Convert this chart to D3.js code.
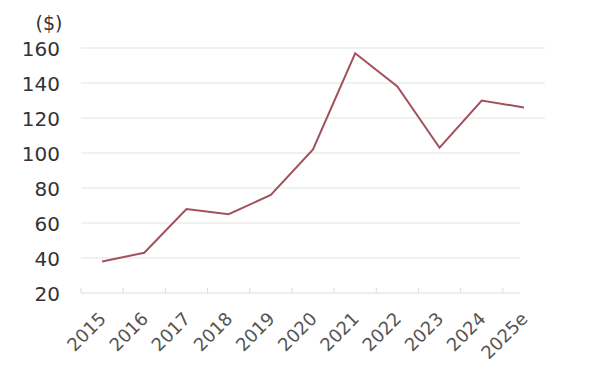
<!DOCTYPE html>
<html>
<head>
<meta charset="UTF-8">
<title>Price</title>
<script src="https://cdn.jsdelivr.net/npm/d3@7"></script>
<style>
  body { margin: 0; background: #fff; }
  text { font-family: "DejaVu Sans", Verdana, sans-serif; }
</style>
</head>
<body>
<div class="holder"></div>
<script>
    var years = ["2015", "2016", "2017", "2018", "2019", "2020", "2021", "2022", "2023", "2024", "2025e"];
    var prices = [38, 43, 68, 65, 76, 102, 157, 138, 103, 130, 126];
    var yTicks = [20, 40, 60, 80, 100, 120, 140, 160];

    var svg = d3.select(".holder")
            .append("svg")
            .attr("width", 600)
            .attr("height", 390);

    var x = d3.scaleBand().domain(years).range([81, 545]);
    var y = d3.scaleLinear().domain([20, 160]).range([293, 48]);
    var axisEnd = 520;

    // gridlines (upper ones run a bit further right, as in the original)
    svg.selectAll("line.grid")
            .data(yTicks.slice(1))
            .enter()
            .append("line")
            .attr("class", "grid")
            .attr("x1", 81)
            .attr("x2", function(d) { return d > 100 ? 545 : axisEnd; })
            .attr("y1", function(d) { return y(d); })
            .attr("y2", function(d) { return y(d); })
            .attr("stroke", "#e3e3e3")
            .attr("stroke-width", 1);

    // x axis line + ticks
    svg.append("line")
            .attr("x1", 81).attr("x2", axisEnd)
            .attr("y1", y(20)).attr("y2", y(20))
            .attr("stroke", "#dcdcdc");
    svg.selectAll("line.tick")
            .data(years)
            .enter()
            .append("line")
            .attr("x1", function(d) { return x(d); })
            .attr("x2", function(d) { return x(d); })
            .attr("y1", y(20) - 5)
            .attr("y2", y(20))
            .attr("stroke", "#dcdcdc");

    // y labels
    svg.selectAll("text.ylab")
            .data(yTicks)
            .enter()
            .append("text")
            .attr("x", 60)
            .attr("y", function(d) { return y(d) + 8; })
            .attr("text-anchor", "end")
            .attr("font-size", 20)
            .attr("fill", "#333")
            .text(function(d) { return d; });

    svg.append("text")
            .attr("x", 49).attr("y", 30)
            .attr("text-anchor", "middle")
            .attr("font-size", 19)
            .attr("fill", "#333")
            .text("($)");

    // x labels
    svg.selectAll("text.xlab")
            .data(years)
            .enter()
            .append("text")
            .attr("text-anchor", "end")
            .attr("font-size", 18)
            .attr("fill", "#555")
            .attr("transform", function(d) {
                return "translate(" + (x(d) + x.bandwidth() / 2 + 5) + "," + 320 + ") rotate(-45)";
            })
            .text(function(d) { return d; });

    var line = d3.line()
            .x(function(d, i) { return x(years[i]) + x.bandwidth() / 2; })
            .y(function(d) { return y(d); });

    svg.append("path")
            .datum(prices)
            .attr("d", line)
            .attr("fill", "none")
            .attr("stroke", "#a3505d")
            .attr("stroke-width", 2);
</script>
</body>
</html>
